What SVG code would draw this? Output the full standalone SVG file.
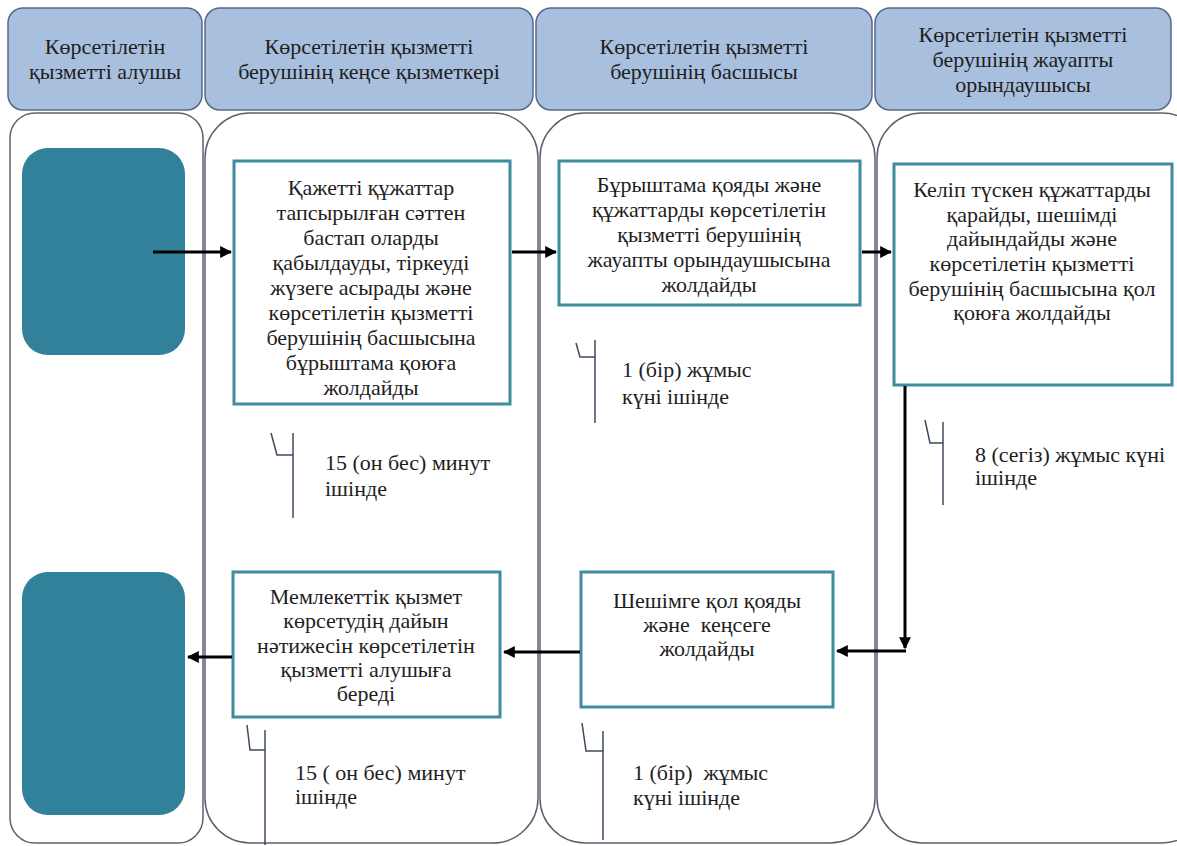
<svg xmlns="http://www.w3.org/2000/svg" width="1177" height="846" viewBox="0 0 1177 846">
<defs>
<style>
.hdr{fill:#a8c0de;stroke:#56688a;stroke-width:1.5}
.lane{fill:#ffffff;stroke:#5c6170;stroke-width:1.5}
.term{fill:#31819a;stroke:none}
.box{fill:#ffffff;stroke:#3f8b9f;stroke-width:3}
text{font-family:'Liberation Serif','Times New Roman',serif;font-size:22px;fill:#1e1e1e}
.t{text-anchor:middle}
.tick{fill:none;stroke:#3c4a5c;stroke-width:1.5}
.arr{fill:none;stroke:#000;stroke-width:3}
</style>
<marker id="ah" viewBox="0 0 10 10" refX="9" refY="5" markerWidth="4" markerHeight="4" orient="auto" markerUnits="strokeWidth">
<path d="M0,0 L10,5 L0,10 z" fill="#000"/>
</marker>
</defs>
<rect width="1177" height="846" fill="#ffffff"/>

<g id="lanes">
<rect class="lane" x="10" y="113" width="193" height="730" rx="25" ry="25"/>
<rect class="lane" x="205" y="113" width="333" height="730" rx="45" ry="45"/>
<rect class="lane" x="540" y="113" width="335" height="730" rx="45" ry="45"/>
<rect class="lane" x="877" y="113" width="330" height="730" rx="45" ry="45"/>
</g>

<g id="header1">
<rect class="hdr" x="8" y="8" width="194" height="102" rx="15" ry="15"/>
<text class="t" x="105" y="54">Көрсетілетін</text>
<text class="t" x="105" y="79">қызметті алушы</text>
</g>
<g id="header2">
<rect class="hdr" x="205" y="8" width="328" height="102" rx="15" ry="15"/>
<text class="t" x="369" y="54">Көрсетілетін қызметті</text>
<text class="t" x="369" y="79">берушінің кеңсе қызметкері</text>
</g>
<g id="header3">
<rect class="hdr" x="536" y="8" width="336" height="102" rx="15" ry="15"/>
<text class="t" x="704" y="54">Көрсетілетін қызметті</text>
<text class="t" x="704" y="79">берушінің басшысы</text>
</g>
<g id="header4">
<rect class="hdr" x="875" y="8" width="296" height="102" rx="15" ry="15"/>
<text class="t" x="1023" y="42">Көрсетілетін қызметті</text>
<text class="t" x="1023" y="67">берушінің жауапты</text>
<text class="t" x="1023" y="92">орындаушысы</text>
</g>

<g id="start">
<rect class="term" x="22" y="148" width="163" height="207" rx="26" ry="26"/>
</g>
<g id="end">
<rect class="term" x="22" y="572" width="163" height="243" rx="26" ry="26"/>
</g>

<g id="step1">
<rect class="box" x="234" y="161" width="276" height="243"/>
<text class="t" x="371" y="195">Қажетті құжаттар</text>
<text class="t" x="371" y="220">тапсырылған сәттен</text>
<text class="t" x="371" y="245">бастап оларды</text>
<text class="t" x="371" y="270">қабылдауды, тіркеуді</text>
<text class="t" x="371" y="295">жүзеге асырады және</text>
<text class="t" x="371" y="320">көрсетілетін қызметті</text>
<text class="t" x="371" y="345">берушінің басшысына</text>
<text class="t" x="371" y="370">бұрыштама қоюға</text>
<text class="t" x="371" y="395">жолдайды</text>
</g>

<g id="step2">
<rect class="box" x="559" y="161" width="301" height="144"/>
<text class="t" x="709" y="192">Бұрыштама қояды және</text>
<text class="t" x="709" y="217">құжаттарды көрсетілетін</text>
<text class="t" x="709" y="242">қызметті берушінің</text>
<text class="t" x="709" y="267">жауапты орындаушысына</text>
<text class="t" x="709" y="292">жолдайды</text>
</g>

<g id="step3">
<rect class="box" x="894" y="164" width="278" height="221"/>
<text class="t" x="1032" y="197">Келіп түскен құжаттарды</text>
<text class="t" x="1032" y="222">қарайды, шешімді</text>
<text class="t" x="1032" y="246">дайындайды және</text>
<text class="t" x="1032" y="271">көрсетілетін қызметті</text>
<text class="t" x="1032" y="296">берушінің басшысына қол</text>
<text class="t" x="1032" y="320">қоюға жолдайды</text>
</g>

<g id="step4">
<rect class="box" x="581" y="572" width="252" height="135"/>
<text class="t" x="707" y="608">Шешімге қол қояды</text>
<text class="t" x="707" y="632" xml:space="preserve">және  кеңсеге</text>
<text class="t" x="707" y="656">жолдайды</text>
</g>

<g id="step5">
<rect class="box" x="233" y="572" width="267" height="145"/>
<text class="t" x="366" y="604">Мемлекеттік қызмет</text>
<text class="t" x="366" y="628">көрсетудің дайын</text>
<text class="t" x="366" y="653">нәтижесін көрсетілетін</text>
<text class="t" x="366" y="677">қызметті алушыға</text>
<text class="t" x="366" y="701">береді</text>
</g>

<g id="note1">
<path class="tick" d="M271,433 L277,455 L293,455 M293,433 L293,518"/>
<text x="325" y="470">15 (он бес) минут</text>
<text x="325" y="496">ішінде</text>
</g>
<g id="note2">
<path class="tick" d="M576,343 L580,357 L595,357 M595,340 L595,423"/>
<text x="622" y="377">1 (бір) жұмыс</text>
<text x="622" y="404">күні ішінде</text>
</g>
<g id="note3">
<path class="tick" d="M925,420 L930,443 L943,443 M943,422 L943,505"/>
<text x="975" y="462">8 (сегіз) жұмыс күні</text>
<text x="975" y="485">ішінде</text>
</g>
<g id="note4">
<path class="tick" d="M247,725 L250,750 L265,750 M265,730 L265,845"/>
<text x="295" y="780">15 ( он бес) минут</text>
<text x="295" y="804">ішінде</text>
</g>
<g id="note5">
<path class="tick" d="M582,723 L586,751 L603,751 M603,731 L603,840"/>
<text x="633" y="780" xml:space="preserve">1 (бір)  жұмыс</text>
<text x="633" y="805">күні ішінде</text>
</g>

<g id="connectors">
<line class="arr" x1="153" y1="252" x2="231" y2="252" marker-end="url(#ah)"/>
<line class="arr" x1="512" y1="252" x2="556" y2="252" marker-end="url(#ah)"/>
<line class="arr" x1="862" y1="252" x2="891" y2="252" marker-end="url(#ah)"/>
<polyline class="arr" points="905,386 905,648" marker-end="url(#ah)"/>
<line class="arr" x1="906" y1="651" x2="837" y2="651" marker-end="url(#ah)"/>
<line class="arr" x1="580" y1="652" x2="504" y2="652" marker-end="url(#ah)"/>
<line class="arr" x1="232" y1="657" x2="188" y2="657" marker-end="url(#ah)"/>
</g>
</svg>
